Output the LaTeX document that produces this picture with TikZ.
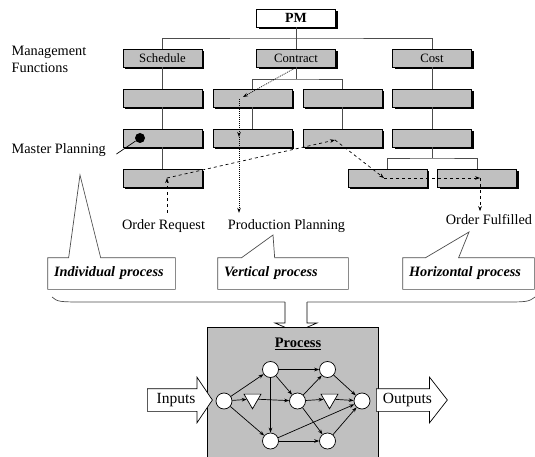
\documentclass[tikz,border=0pt]{standalone}
\usepackage{fontspec}
\setmainfont{Liberation Serif}
\usetikzlibrary{shapes.geometric,shapes.arrows,shadows,arrows.meta}
\definecolor{boxgray}{RGB}{192,192,192}

\begin{document}
\begin{tikzpicture}[x=1pt,y=-1pt, line width=0.7pt,
    >={Stealth[length=5pt,width=3.6pt]},
    fbox/.style={draw, fill=boxgray, minimum width=79pt, minimum height=18pt, inner sep=0,
        font=\fontsize{12.7}{14}\selectfont,
        general shadow={fill=black, shadow xshift=2pt, shadow yshift=-2pt}},
    tag/.style={font=\fontsize{14.3}{17}\selectfont},
    callout/.style={minimum height=31pt, inner xsep=6pt, align=left,
        font=\fontsize{14.3}{17}\selectfont\bfseries\itshape},
    cline/.style={draw=black!70},
    pnode/.style={circle, draw, fill=white, minimum size=16pt, inner sep=0},
    ptri/.style={regular polygon, regular polygon sides=3, shape border rotate=180,
        draw, fill=white, minimum size=19.6pt, inner sep=0},
    blk/.style={single arrow, draw, fill=white, text height=10.5pt, text depth=3.5pt,
        inner ysep=4pt, inner xsep=0pt, single arrow head extend=11.5pt,
        font=\fontsize{15.5}{18}\selectfont}
]
\useasboundingbox (0,0) rectangle (535,457);

% management functions
\node[fbox, fill=white, font=\fontsize{14}{16}\selectfont\bfseries] (pm) at (296,18) {PM};
\node[fbox] (sched) at (162.5,58) {Schedule};
\node[fbox] (contr) at (296,58) {Contract};
\node[fbox] (cost) at (432,58) {Cost};
\node[fbox] (s1) at (162.5,98) {};
\node[fbox] (c1) at (252.5,98) {};
\node[fbox] (c2) at (342.5,98) {};
\node[fbox] (k1) at (432,98) {};
\node[fbox] (s2) at (162.5,138) {};
\node[fbox] (c3) at (252.5,138) {};
\node[fbox] (c4) at (342.5,138) {};
\node[fbox] (k2) at (432,138) {};
\node[fbox] (s3) at (162.5,178) {};
\node[fbox] (k3) at (387.5,178) {};
\node[fbox] (k4) at (477,178) {};

\coordinate (hbar) at (296,38);
\coordinate (cbar) at (296,79);
\coordinate (kbar) at (432,158);
\draw[cline] (pm) -- (contr);
\draw[cline] (sched.north) |- (hbar) -| (cost.north);
\draw[cline] (sched) -- (s1);
\draw[cline] (s1) -- (s2);
\draw[cline] (s2) -- (s3);
\draw[cline] (contr) -- (cbar);
\draw[cline] (c1.north) |- (cbar) -| (c2.north);
\draw[cline] (c1) -- (c3);
\draw[cline] (c2) -- (c4);
\draw[cline] (cost) -- (k1);
\draw[cline] (k1) -- (k2);
\draw[cline] (k2) -- (kbar);
\draw[cline] (k3.north) |- (kbar) -| (k4.north);

\node[tag, anchor=west, align=left] (mf) at (8,59.5) {Management\\Functions};
\node[tag, anchor=west] (mp) at (8,150) {Master Planning};
\node[fill, circle, minimum size=10pt, inner sep=0] (dot) at (140,138) {};
\draw ([shift={(7,4)}]mp.east) -- (dot);

% order flow
\node[tag] (orq) at (163.5,226) {Order Request};
\node[tag] (prp) at (286.5,226) {Production Planning};
\node[tag] (ofl) at (489,220) {Order Fulfilled};
\coordinate (p1) at (167,178);
\coordinate (p2) at (335,140);
\coordinate (p3) at (384,178);
\coordinate (p4) at (480,178);
\draw[dashed, ->] ([yshift=3pt]orq.north -| p1) -- (p1);
\draw[dashed, ->] (p1) -- (p2);
\draw[dashed, ->] (p2) -- (p3);
\draw[dashed, ->] (p3) -- (p4);
\draw[dashed, ->] (p4) -- (ofl.north -| p4);
\coordinate (q1) at (295,68);
\coordinate (q2) at (243,97);
\coordinate (q3) at (239,99);
\coordinate (q4) at (239,137);
\draw[dash pattern=on 1pt off 1pt, ->] (q1) -- (q2);
\draw[dash pattern=on 1pt off 1pt, ->] (q3) -- (q4);
\draw[dash pattern=on 1pt off 1pt, ->] (q4) -- ([yshift=3pt]prp.north -| q4);

% callouts
\node[callout, text width=115pt] (indiv) at (111.5,273.5) {Individual process};
\node[callout, text width=118pt] (vert) at (283,273.5) {Vertical process};
\node[callout, text width=119pt] (horz) at (468.5,273.5) {Horizontal process};
\coordinate (indtip) at (80,175);
\coordinate (verttip) at (273,235);
\coordinate (horztip) at (469,232);
\draw[cline] (indiv.north west) -- ++(21,0) -- (indtip) -- ([xshift=53pt]indiv.north west)
    -- (indiv.north east) -- (indiv.south east) -- (indiv.south west) -- cycle;
\draw[cline] (vert.north west) -- ++(24,0) -- (verttip) -- ([xshift=57pt]vert.north west)
    -- (vert.north east) -- (vert.south east) -- (vert.south west) -- cycle;
\draw[cline] (horz.north west) -- ++(23,0) -- (horztip) -- ([xshift=56pt]horz.north west)
    -- (horz.north east) -- (horz.south east) -- (horz.south west) -- cycle;

% brace and arrow down
\draw[cline] (52,297) .. controls (58,302) .. (90,302) -- (285,302);
\draw[cline] (307,302) -- (500,302) .. controls (528,302) .. (535,297);
\draw[fill=white] (285,302) -- (285,323) -- (275,323) -- (296,332) -- (317,323) -- (307,323) -- (307,302);

% process
\node[fill=boxgray, minimum width=170pt, minimum height=129pt, inner sep=0] (proc) at (293,392.5) {};
\draw (proc.south west) -- (proc.north west) -- (proc.north east) -- (proc.south east);
\node[font=\fontsize{14.5}{17}\selectfont\bfseries] (ptitle) at (298,344) {\underline{Process}};

\node[pnode] (n1) at (224,401) {};
\node[pnode] (t1) at (270.5,369.5) {};
\node[pnode] (b1) at (270.5,441) {};
\node[ptri] (tr1) at (252.5,399) {};
\node[pnode] (mid) at (297.5,401) {};
\node[pnode] (t2) at (327.5,369.5) {};
\node[pnode] (b2) at (327.5,441) {};
\node[ptri] (tr2) at (329.5,399) {};
\node[pnode] (out) at (362,401) {};

\draw[->] (n1) -- (t1);
\draw[->] (n1) -- (tr1);
\draw[->] (n1) -- (b1);
\draw[->] (tr1) -- (mid);
\draw[->] (t1) -- (t2);
\draw[->] (t1) -- (mid);
\draw[->] (t1) -- (b1);
\draw[->] (mid) -- (t2);
\draw[->] (mid) -- (tr2);
\draw[->] (mid) -- (b2);
\draw[->] (b1) -- (b2);
\draw[->] (b1) -- (out);
\draw[->] (t2) -- (out);
\draw[->] (tr2) -- (out);
\draw[->] (b2) -- (out);

\node[blk, anchor=tail, minimum height=65pt, single arrow tip angle=112] (inp) at (147,400) {Inputs};
\node[blk, anchor=tail, minimum height=71pt, single arrow tip angle=104] (outp) at (376,400) {Outputs};
\end{tikzpicture}
\end{document}
